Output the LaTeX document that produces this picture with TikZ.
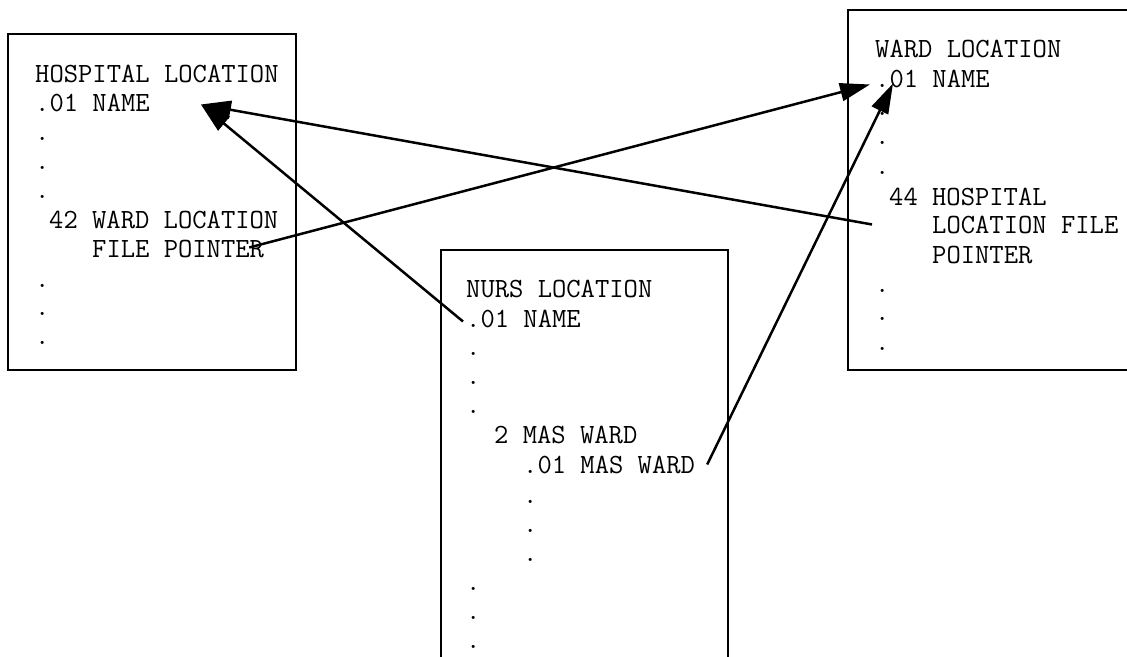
\documentclass[tikz,border=0pt]{standalone}
\usepackage{fontspec}
\usetikzlibrary{arrows.meta}
\tikzset{%
  record/.style  = {draw, line width=2.4pt, inner sep=0pt},%
  field/.style   = {anchor=base west, inner sep=0pt,%
                    font=\ttfamily\fontsize{27.8}{30}\selectfont},%
  pointer/.style = {line width=2.5pt, -{Triangle[length=30pt,width=18pt]}}%
}
\begin{document}
\begin{tikzpicture}[x=1pt, y=-1pt]
  \useasboundingbox (0,0) rectangle (1127,656);
  \clip (0,0) rectangle (1127,656);
  % the three files
  \node [record, minimum width=288, minimum height=336] (hosp) at (152,202) {};
  \node [record, minimum width=292, minimum height=360] (ward) at (994,190) {};
  \node [record, minimum width=287, minimum height=430] (nurs) at (584.5,465) {};
  % HOSPITAL LOCATION
  \node [field] (hhead) at (35,82)  {HOSPITAL LOCATION};
  \node [field] (hname) at (35,111) {.01 NAME};
  \node [field] (hd1)   at (35,140) {.};
  \node [field] (hd2)   at (35,169) {.};
  \node [field] (hd3)   at (35,198) {.};
  \node [field] (hward) at (49,228) {42 WARD LOCATION};
  \node [field] (hptr)  at (92,257) {FILE POINTER};
  \node [field] (hd4)   at (35,287) {.};
  \node [field] (hd5)   at (35,315) {.};
  \node [field] (hd6)   at (35,344) {.};
  % WARD LOCATION
  \node [field] (whead) at (875,57)  {WARD LOCATION};
  \node [field] (wname) at (875,87)  {.01 NAME};
  \node [field] (wd1)   at (875,115) {.};
  \node [field] (wd2)   at (875,144) {.};
  \node [field] (wd3)   at (875,174) {.};
  \node [field] (wptr)  at (889,205) {44 HOSPITAL};
  \node [field] (wloc)  at (932,233) {LOCATION FILE};
  \node [field] (wpoint) at (932,263) {POINTER};
  \node [field] (wd4)   at (875,292) {.};
  \node [field] (wd5)   at (875,320) {.};
  \node [field] (wd6)   at (875,350) {.};
  % NURS LOCATION
  \node [field] (nhead) at (466,297) {NURS LOCATION};
  \node [field] (nname) at (466,327) {.01 NAME};
  \node [field] (nd1)   at (466,355) {.};
  \node [field] (nd2)   at (466,384) {.};
  \node [field] (nd3)   at (466,413) {.};
  \node [field] (nmas)  at (494,443) {2 MAS WARD};
  \node [field] (nmasname) at (523,473) {.01 MAS WARD};
  \node [field] (nd4)   at (523,503) {.};
  \node [field] (nd5)   at (523,532) {.};
  \node [field] (nd6)   at (523,561) {.};
  \node [field] (nd7)   at (466,590) {.};
  \node [field] (nd8)   at (466,619) {.};
  \node [field] (nd9)   at (466,648) {.};
  % pointers
  \draw [pointer] ([xshift=-3pt,yshift=-3pt]nname.west) -- ([xshift=51pt,yshift=-2pt]hname.east);
  \draw [pointer] ([xshift=-60pt]wloc.west) -- ([xshift=51pt,yshift=-2pt]hname.east);
  \draw [pointer] ([xshift=-15pt,yshift=1pt]hptr.east) -- ([xshift=-5pt,yshift=-6pt]wname.west);
  \draw [pointer] ([xshift=12pt]nmasname.east) -- ([xshift=18pt,yshift=-5pt]wname.west);
\end{tikzpicture}
\end{document}
